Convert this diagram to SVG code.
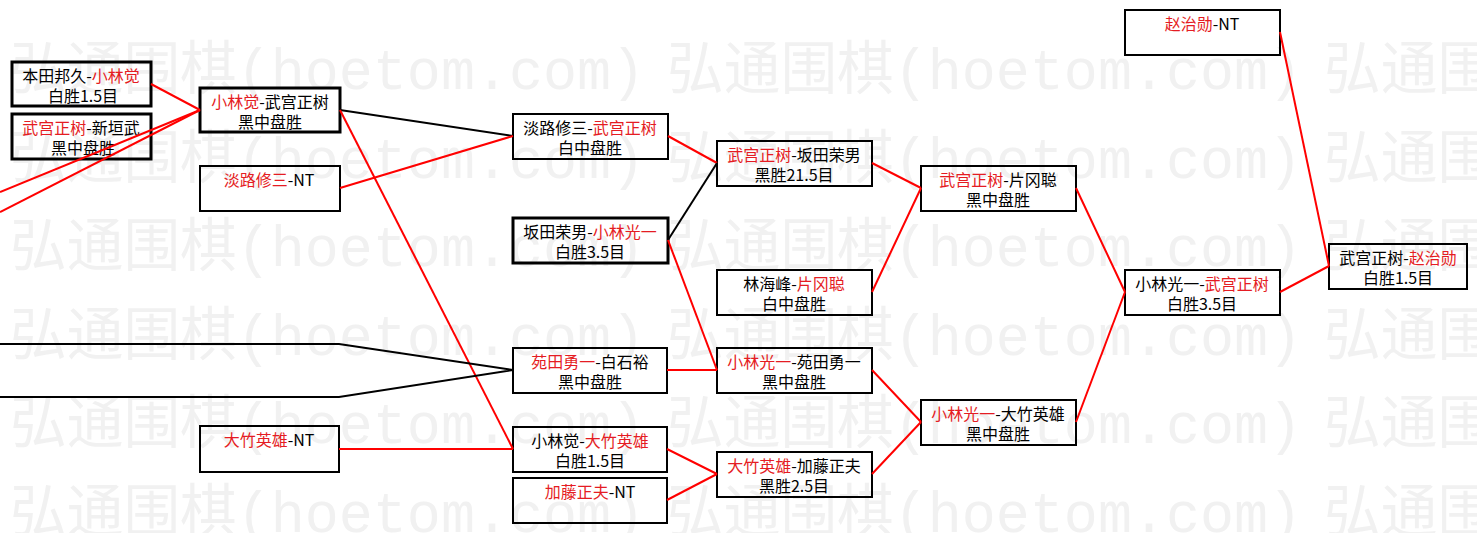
<svg xmlns="http://www.w3.org/2000/svg" width="1477" height="533" viewBox="0 0 1477 533">
<style>
.wm{font-family:"Liberation Mono","Noto Sans CJK SC",monospace;font-size:58px;fill:#f1f1f1}
.bx{fill:none;stroke:#000;stroke-width:2}
.bx.t{stroke-width:3}
.tx{font-family:"Noto Sans CJK SC","Noto Sans",sans-serif;font-size:16px;fill:#000;text-anchor:middle}
.r{fill:#e51c23}
.cr{fill:none;stroke:#ff0000;stroke-width:2}
.ck{fill:none;stroke:#000;stroke-width:2}
</style>
<rect width="1477" height="533" fill="#fff"/>
<g id="watermark">
<text class="wm" x="10" y="89" textLength="635" lengthAdjust="spacingAndGlyphs">弘通围棋(hoetom.com)</text>
<text class="wm" x="667" y="89" textLength="635" lengthAdjust="spacingAndGlyphs">弘通围棋(hoetom.com)</text>
<text class="wm" x="1324" y="89" textLength="635" lengthAdjust="spacingAndGlyphs">弘通围棋(hoetom.com)</text>
<text class="wm" x="10" y="178" textLength="635" lengthAdjust="spacingAndGlyphs">弘通围棋(hoetom.com)</text>
<text class="wm" x="667" y="178" textLength="635" lengthAdjust="spacingAndGlyphs">弘通围棋(hoetom.com)</text>
<text class="wm" x="1324" y="178" textLength="635" lengthAdjust="spacingAndGlyphs">弘通围棋(hoetom.com)</text>
<text class="wm" x="10" y="266" textLength="635" lengthAdjust="spacingAndGlyphs">弘通围棋(hoetom.com)</text>
<text class="wm" x="667" y="266" textLength="635" lengthAdjust="spacingAndGlyphs">弘通围棋(hoetom.com)</text>
<text class="wm" x="1324" y="266" textLength="635" lengthAdjust="spacingAndGlyphs">弘通围棋(hoetom.com)</text>
<text class="wm" x="10" y="355" textLength="635" lengthAdjust="spacingAndGlyphs">弘通围棋(hoetom.com)</text>
<text class="wm" x="667" y="355" textLength="635" lengthAdjust="spacingAndGlyphs">弘通围棋(hoetom.com)</text>
<text class="wm" x="1324" y="355" textLength="635" lengthAdjust="spacingAndGlyphs">弘通围棋(hoetom.com)</text>
<text class="wm" x="10" y="443" textLength="635" lengthAdjust="spacingAndGlyphs">弘通围棋(hoetom.com)</text>
<text class="wm" x="667" y="443" textLength="635" lengthAdjust="spacingAndGlyphs">弘通围棋(hoetom.com)</text>
<text class="wm" x="1324" y="443" textLength="635" lengthAdjust="spacingAndGlyphs">弘通围棋(hoetom.com)</text>
<text class="wm" x="10" y="532" textLength="635" lengthAdjust="spacingAndGlyphs">弘通围棋(hoetom.com)</text>
<text class="wm" x="667" y="532" textLength="635" lengthAdjust="spacingAndGlyphs">弘通围棋(hoetom.com)</text>
<text class="wm" x="1324" y="532" textLength="635" lengthAdjust="spacingAndGlyphs">弘通围棋(hoetom.com)</text>
</g>
<g id="nodeA"><rect class="bx t" x="12" y="62" width="139" height="44"/><text class="tx" x="81" y="82">本田邦久-<tspan class="r">小林觉</tspan></text><text class="tx" x="83" y="102">白胜1.5目</text></g>
<g id="nodeB"><rect class="bx t" x="12" y="114" width="139" height="45"/><text class="tx" x="81" y="134"><tspan class="r">武宫正树</tspan>-新垣武</text><text class="tx" x="83" y="154">黑中盘胜</text></g>
<g id="nodeC"><rect class="bx t" x="200" y="88" width="140" height="44"/><text class="tx" x="270" y="108"><tspan class="r">小林觉</tspan>-武宫正树</text><text class="tx" x="270" y="128">黑中盘胜</text></g>
<g id="nodeD"><rect class="bx" x="200" y="166" width="140" height="45"/><text class="tx" x="269" y="186"><tspan class="r">淡路修三</tspan>-NT</text></g>
<g id="nodeE"><rect class="bx" x="200" y="426" width="139" height="46"/><text class="tx" x="269" y="446"><tspan class="r">大竹英雄</tspan>-NT</text></g>
<g id="nodeF"><rect class="bx" x="513" y="114" width="155" height="45"/><text class="tx" x="590" y="134">淡路修三-<tspan class="r">武宫正树</tspan></text><text class="tx" x="590" y="154">白中盘胜</text></g>
<g id="nodeG"><rect class="bx t" x="513" y="218" width="155" height="45"/><text class="tx" x="590" y="238">坂田荣男-<tspan class="r">小林光一</tspan></text><text class="tx" x="590" y="258">白胜3.5目</text></g>
<g id="nodeH"><rect class="bx" x="513" y="348" width="154" height="45"/><text class="tx" x="590" y="368"><tspan class="r">苑田勇一</tspan>-白石裕</text><text class="tx" x="590" y="388">黑中盘胜</text></g>
<g id="nodeI"><rect class="bx" x="513" y="427" width="154" height="45"/><text class="tx" x="590" y="447">小林觉-<tspan class="r">大竹英雄</tspan></text><text class="tx" x="590" y="467">白胜1.5目</text></g>
<g id="nodeJ"><rect class="bx" x="513" y="478" width="154" height="45"/><text class="tx" x="590" y="498"><tspan class="r">加藤正夫</tspan>-NT</text></g>
<g id="nodeK"><rect class="bx" x="717" y="141" width="155" height="45"/><text class="tx" x="794" y="161"><tspan class="r">武宫正树</tspan>-坂田荣男</text><text class="tx" x="794" y="181">黑胜21.5目</text></g>
<g id="nodeL"><rect class="bx" x="717" y="270" width="155" height="45"/><text class="tx" x="794" y="290">林海峰-<tspan class="r">片冈聪</tspan></text><text class="tx" x="794" y="310">白中盘胜</text></g>
<g id="nodeM"><rect class="bx" x="717" y="348" width="155" height="45"/><text class="tx" x="794" y="368"><tspan class="r">小林光一</tspan>-苑田勇一</text><text class="tx" x="794" y="388">黑中盘胜</text></g>
<g id="nodeN"><rect class="bx" x="717" y="452" width="155" height="45"/><text class="tx" x="794" y="472"><tspan class="r">大竹英雄</tspan>-加藤正夫</text><text class="tx" x="794" y="492">黑胜2.5目</text></g>
<g id="nodeO"><rect class="bx" x="921" y="166" width="155" height="45"/><text class="tx" x="998" y="186"><tspan class="r">武宫正树</tspan>-片冈聪</text><text class="tx" x="998" y="206">黑中盘胜</text></g>
<g id="nodeP"><rect class="bx" x="921" y="400" width="155" height="45"/><text class="tx" x="998" y="420"><tspan class="r">小林光一</tspan>-大竹英雄</text><text class="tx" x="998" y="440">黑中盘胜</text></g>
<g id="nodeQ"><rect class="bx" x="1125" y="10" width="155" height="45"/><text class="tx" x="1202" y="30"><tspan class="r">赵治勋</tspan>-NT</text></g>
<g id="nodeR"><rect class="bx" x="1125" y="270" width="155" height="45"/><text class="tx" x="1202" y="290">小林光一-<tspan class="r">武宫正树</tspan></text><text class="tx" x="1202" y="310">白胜3.5目</text></g>
<g id="nodeS"><rect class="bx" x="1329" y="244" width="138" height="45"/><text class="tx" x="1398" y="264">武宫正树-<tspan class="r">赵治勋</tspan></text><text class="tx" x="1398" y="284">白胜1.5目</text></g>
<g id="connectors">
<path class="cr" d="M151,84 L200,110"/>
<path class="cr" d="M0,192 L200,110"/>
<path class="cr" d="M0,212 L200,110"/>
<path class="ck" d="M340,110 L513,136"/>
<path class="cr" d="M340,110 L513,449"/>
<path class="cr" d="M340,188 L513,136"/>
<path class="cr" d="M339,449 L513,449"/>
<path class="ck" d="M0,344 L339,344 L513,370 L339,397 L0,397"/>
<path class="cr" d="M668,136 L717,163"/>
<path class="ck" d="M668,240 L717,163"/>
<path class="cr" d="M668,240 L717,370"/>
<path class="cr" d="M667,370 L717,370"/>
<path class="cr" d="M667,449 L717,474"/>
<path class="cr" d="M667,500 L717,474"/>
<path class="cr" d="M872,163 L921,188"/>
<path class="cr" d="M872,292 L921,188"/>
<path class="cr" d="M872,370 L921,422"/>
<path class="cr" d="M872,474 L921,422"/>
<path class="cr" d="M1076,188 L1125,292"/>
<path class="cr" d="M1076,422 L1125,292"/>
<path class="cr" d="M1280,32 L1329,266"/>
<path class="cr" d="M1280,292 L1329,266"/>
</g>
</svg>
